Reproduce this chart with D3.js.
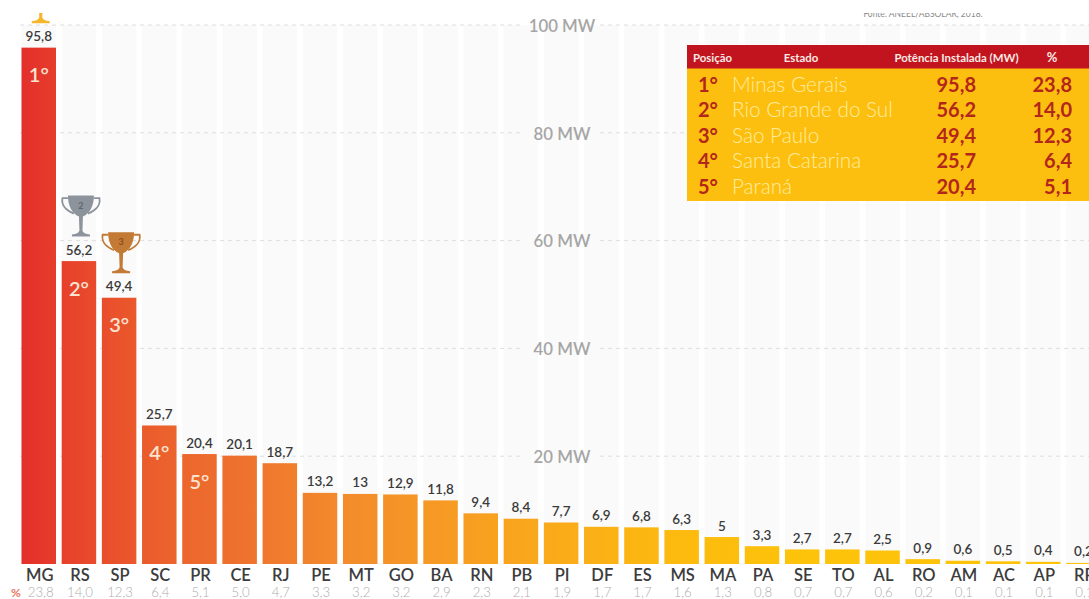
<!DOCTYPE html>
<html lang="pt-BR">
<head>
<meta charset="utf-8">
<title>Potência instalada por estado</title>
<script src="https://cdn.jsdelivr.net/npm/d3@7/dist/d3.min.js"></script>
<style>
  html, body { margin: 0; padding: 0; background: #fff; overflow: hidden; }
  svg { display: block; font-family: Lato, "Open Sans", sans-serif; }
  .axis path, .axis line { display: none; }
</style>
</head>
<body>
<svg id="chart" width="1089" height="599"></svg>
<script>
// Potência instalada por estado (MW) e participação (%)
const states = ["MG","RS","SP","SC","PR","CE","RJ","PE","MT","GO","BA","RN","PB","PI","DF","ES","MS","MA","PA","SE","TO","AL","RO","AM","AC","AP","RR"];
const power = [95.8,56.2,49.4,25.7,20.4,20.1,18.7,13.2,13,12.9,11.8,9.4,8.4,7.7,6.9,6.8,6.3,5,3.3,2.7,2.7,2.5,0.9,0.6,0.5,0.4,0.2];
const share = [23.8,14.0,12.3,6.4,5.1,5.0,4.7,3.3,3.2,3.2,2.9,2.3,2.1,1.9,1.7,1.7,1.6,1.3,0.8,0.7,0.7,0.6,0.2,0.1,0.1,0.1,0.1];
const axisTicks = [20,40,60,80,100];

// Ranking dos cinco primeiros
const rankLabels = ["1°","2°","3°","4°","5°"];
const rankNames = ["Minas Gerais","Rio Grande do Sul","São Paulo","Santa Catarina","Paraná"];
const rankPower = [95.8,56.2,49.4,25.7,20.4];
const rankShare = [23.8,14.0,12.3,6.4,5.1];
const tableHeaders = ["Posição","Estado","Potência Instalada (MW)","%"];
const sourceNote = "Fonte: ANEEL/ABSOLAR, 2018.";

const trophyColors = [
  { body: "#f6b62c", dark: "#d9951a" },
  { body: "#8d939c", dark: "#5f656e" },
  { body: "#c27a35", dark: "#8a4f1c" }
];
const rampOffsets = [0, 0.05, 0.10, 0.15, 0.20, 0.30, 0.45, 0.60, 0.72, 1];
const rampColors = ["#e32f2b","#e8442c","#ea562c","#ec662d","#ee702e","#f38b2c","#f8a31f","#fcb90f","#fdc20a","#fdc40a"];

const comma = v => String(v).replace(".", ",");
const fixed = v => v.toFixed(1).replace(".", ",");

const svg = d3.select("#chart");
const x = d3.scaleBand().domain(states).range([21.5, 1100.7]).paddingInner(0.1414).paddingOuter(0);
const y = d3.scaleLinear().domain([0, 100]).range([564, 25]);

// Rampa horizontal contínua que atravessa todas as barras
const defs = svg.append("defs");
const grad = defs.append("linearGradient").attr("id", "ramp")
  .attr("gradientUnits", "userSpaceOnUse")
  .attr("x1", 21).attr("x2", 1089).attr("y1", 0).attr("y2", 0);
grad.selectAll("stop").data(rampOffsets).join("stop")
  .attr("offset", d => d)
  .attr("stop-color", (d, i) => rampColors[i]);
defs.append("clipPath").attr("id", "topCut")
  .append("rect").attr("x", 0).attr("y", 13).attr("width", 1089).attr("height", 586);

// Colunas claras de fundo
svg.append("g").selectAll("rect").data(states).join("rect")
  .attr("x", d => x(d)).attr("width", x.bandwidth())
  .attr("y", y(100)).attr("height", y(0) - y(100))
  .attr("fill", "#fafafa");

// Linhas de grade, interrompidas em torno do rótulo do eixo
const gridSpans = [[20, 522], [600, 1089]];
const grid = svg.append("g").attr("stroke", "#dedede").attr("stroke-width", 1).attr("stroke-dasharray", "4 4");
axisTicks.forEach(t => {
  gridSpans.forEach(s => {
    grid.append("line").attr("x1", s[0]).attr("x2", s[1]).attr("y1", y(t)).attr("y2", y(t));
  });
});

// Eixo de potência no meio do gráfico
const axis = svg.append("g").attr("class", "axis").attr("transform", "translate(562,1)")
  .call(d3.axisRight(y).tickValues(axisTicks).tickSize(0).tickPadding(0).tickFormat(d => d + " MW"));
axis.selectAll("text")
  .attr("text-anchor", "middle").attr("x", 0)
  .attr("font-size", 16.8).attr("font-weight", 600).attr("font-family", "Lato, sans-serif").attr("fill", "#a6a6a6");

// Barras
svg.append("g").selectAll("rect").data(states).join("rect")
  .attr("x", d => x(d)).attr("width", x.bandwidth())
  .attr("y", (d, i) => y(power[i]))
  .attr("height", (d, i) => y(0) - y(power[i]))
  .attr("fill", "url(#ramp)");

// Valores sobre as barras
svg.append("g").selectAll("text").data(states).join("text")
  .attr("x", d => x(d) + x.bandwidth() / 2)
  .attr("y", (d, i) => y(power[i]) - 6.5)
  .attr("text-anchor", "middle").attr("font-size", 13.5).attr("font-weight", 600).attr("fill", "#3a3a3a")
  .text((d, i) => comma(power[i]));

// Siglas e percentuais
svg.append("g").selectAll("text").data(states).join("text")
  .attr("x", d => x(d) + x.bandwidth() / 2 + 1).attr("y", 580.8)
  .attr("text-anchor", "middle").attr("font-size", 16.5).attr("font-weight", 600).attr("fill", "#3c3c3c")
  .text(d => d);
svg.append("g").selectAll("text").data(states).join("text")
  .attr("x", d => x(d) + x.bandwidth() / 2 + (d === "MG" ? 2 : 1)).attr("y", 596.8)
  .attr("text-anchor", "middle").attr("font-size", 13.2).attr("font-weight", 300).attr("fill", "#adadad")
  .text((d, i) => fixed(share[i]));
svg.append("text").attr("x", 11).attr("y", 596.8)
  .attr("font-size", 12).attr("font-weight", 700).attr("fill", "#e8775f").text("%");

// Posição dentro das cinco maiores barras
svg.append("g").selectAll("text").data(rankLabels).join("text")
  .attr("x", (d, i) => x(states[i]) + x.bandwidth() / 2)
  .attr("y", (d, i) => y(power[i]) + 34.5)
  .attr("text-anchor", "middle").attr("font-size", 20).attr("font-weight", 600).attr("fill", "#fbe3d0")
  .text(d => d);

// Troféus acima das três maiores barras
const cup = "M-13,-41 H13 C13,-31 9,-23 2,-20 L1.5,-6 C2,-3.5 5,-2.5 9,-2 V0 H-9 V-2 C-5,-2.5 -2,-3.5 -1.5,-6 L-2,-20 C-9,-23 -13,-31 -13,-41 Z";
const handles = "M-13,-38.5 H-18.5 C-20,-30 -14,-26 -7,-23 M13,-38.5 H18.5 C20,-30 14,-26 7,-23";
const trophies = svg.append("g").attr("clip-path", "url(#topCut)")
  .selectAll("g").data(trophyColors).join("g")
  .attr("transform", (d, i) => `translate(${x(states[i]) + x.bandwidth() / 2 + 2},${y(power[i]) - 24.5})`);
trophies.append("path").attr("d", handles).attr("fill", "none").attr("stroke", d => d.body).attr("stroke-width", 1.8);
trophies.append("path").attr("d", cup).attr("fill", d => d.body);
trophies.append("text").attr("y", -28).attr("text-anchor", "middle").attr("font-size", 9).attr("font-weight", 700)
  .attr("fill", d => d.dark).text((d, i) => i + 1);

// Nota de fonte, cortada pela margem superior
svg.append("g").attr("clip-path", "url(#topCut)")
  .append("text").attr("x", 923).attr("y", 17).attr("text-anchor", "middle")
  .attr("font-size", 8.5).attr("fill", "#8a8a8a").text(sourceNote);

// Tabela do ranking
const table = svg.append("g");
table.append("rect").attr("x", 687).attr("y", 45).attr("width", 402).attr("height", 156).attr("fill", "#fdbf0f");
table.append("rect").attr("x", 687).attr("y", 45).attr("width", 402).attr("height", 23.5).attr("fill", "#c1141f");

const headerX = [693, 801, 956.5, 1052];
const headerAnchor = ["start", "middle", "middle", "middle"];
table.append("g").selectAll("text").data(tableHeaders).join("text")
  .attr("x", (d, i) => headerX[i]).attr("y", 61.5)
  .attr("text-anchor", (d, i) => headerAnchor[i])
  .attr("font-size", (d, i) => i === 3 ? 13 : 11.4).attr("font-weight", 700).attr("fill", "#fbe9e4")
  .text(d => d);

const rowY = d3.scaleLinear().domain([0, 4]).range([91.5, 193.5]);
const redText = "#b3261b";
const rows = table.append("g").selectAll("g").data(rankNames).join("g")
  .attr("transform", (d, i) => `translate(0,${rowY(i)})`);
rows.append("text").attr("x", 698).attr("font-size", 20).attr("font-weight", 700).attr("fill", redText)
  .text((d, i) => rankLabels[i]);
rows.append("text").attr("x", 732).attr("font-size", 20.7).attr("font-weight", 300).attr("fill", "#ffec9e")
  .text(d => d);
rows.append("text").attr("x", 976).attr("text-anchor", "end").attr("font-size", 20).attr("font-weight", 700).attr("fill", redText)
  .text((d, i) => fixed(rankPower[i]));
rows.append("text").attr("x", 1072).attr("text-anchor", "end").attr("font-size", 20).attr("font-weight", 700).attr("fill", redText)
  .text((d, i) => fixed(rankShare[i]));
</script>
</body>
</html>
